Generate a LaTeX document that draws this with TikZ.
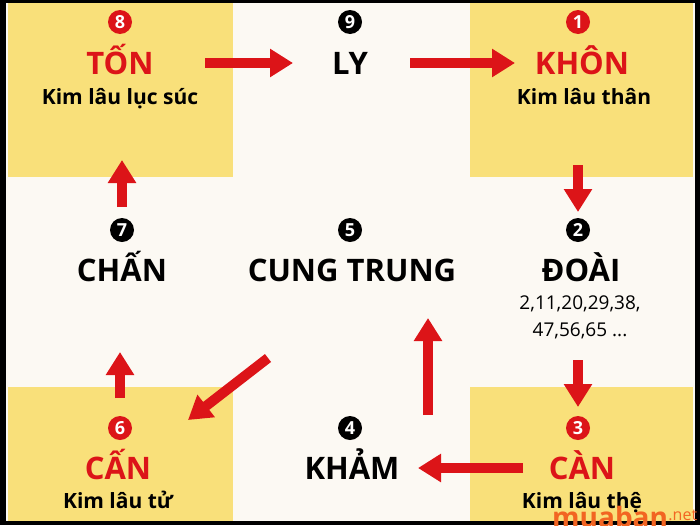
\documentclass[tikz,border=0pt]{standalone}
\usepackage{fontspec}
\setmainfont{Open Sans}
\usepackage{tikz}
\usetikzlibrary{positioning,arrows.meta}
\definecolor{arrowred}{RGB}{220,20,24}
\definecolor{cellyellow}{RGB}{249,224,122}
\definecolor{paper}{RGB}{252,249,243}
\definecolor{brandorange}{RGB}{242,101,34}

\begin{document}
\begin{tikzpicture}[x=1pt,y=-1pt,
    ball/.style={circle, fill=#1, text=white, inner sep=0pt,
        minimum size=24pt, font=\fontsize{18}{18}\selectfont\bfseries},
    ball/.default=black,
    palace/.style={text=#1, inner sep=0pt, text height=22pt, text depth=0pt,
        font=\fontsize{31}{31}\selectfont\bfseries},
    palace/.default=black,
    kimlau/.style={anchor=base, inner sep=0pt, font=\fontsize{21}{21}\selectfont\bfseries},
    ages/.style={anchor=base, inner sep=0pt, font=\fontsize{19}{19}\selectfont},
    flow/.style={draw=arrowred, line width=10pt, -{Triangle[width=27pt,length=23pt]}}]
    \clip (0,0) rectangle (700,525);
    \fill[black] (0,0) rectangle (700,525);
    \fill[paper] (6,3) rectangle (695,521);
    % yellow corner cells
    \fill[cellyellow] (8,3) rectangle (233,177);
    \fill[cellyellow] (470,3) rectangle (693,177);
    \fill[cellyellow] (8,387) rectangle (233,521);
    \fill[cellyellow] (470,387) rectangle (693,521);

    % top row
    \node[ball=arrowred] (n8) at (120,22) {8};
    \node[palace=arrowred] (ton) at (120,63) {TỐN};
    \node[kimlau] (sub8) at (120,104) {Kim lâu lục súc};
    \node[ball] (n9) at (350,22) {9};
    \node[palace] (ly) at (350,63) {LY};
    \node[ball=arrowred] (n1) at (578,22) {1};
    \node[palace=arrowred] (khon) at (582,63) {KHÔN};
    \node[kimlau] (sub1) at (584,104) {Kim lâu thân};

    % middle row
    \node[ball] (n7) at (122,230) {7};
    \node[palace] (chan) at (122,270) {CHẤN};
    \node[ball] (n5) at (350,230) {5};
    \node[palace] (cung) at (352,270) {CUNG TRUNG};
    \node[ball] (n2) at (578,230) {2};
    \node[palace] (doai) at (581,270) {ĐOÀI};
    \node[ages] (ages1) at (580,309) {2,11,20,29,38,};
    \node[ages] (ages2) at (580,336) {47,56,65 ...};

    % bottom row
    \node[ball=arrowred] (n6) at (120,428) {6};
    \node[palace=arrowred] (can6) at (118,468) {CẤN};
    \node[kimlau] (sub6) at (118,508) {Kim lâu tử};
    \node[ball] (n4) at (350,428) {4};
    \node[palace] (kham) at (352,468) {KHẢM};
    \node[ball=arrowred] (n3) at (578,428) {3};
    \node[palace=arrowred] (can3) at (582,468) {CÀN};
    \node[kimlau] (sub3) at (582,508) {Kim lâu thệ};

    % arrows
    \draw[flow, shorten <=85pt, shorten >=57pt] (ton.center) -- (ly.center);
    \draw[flow, shorten <=60pt, shorten >=67pt] (ly.center) -- (khon.center);
    \draw[flow, shorten <=61pt, shorten >=18pt] (n2.center |- sub1.base) -- (n2.center);
    \draw[flow, shorten <=24pt, shorten >=21pt] (n3.center |- ages2.base) -- (n3.center);
    \draw[flow, shorten <=59pt, shorten >=66pt] (can3.center) -- (kham.center);
    \draw[flow, shorten <=13pt, shorten >=48pt] ([xshift=78pt]n4.center) -- ([xshift=78pt]n4.center |- cung.center);
    \coordinate (d5) at (268,358);
    \coordinate (d6) at (188,420);
    \draw[flow] (d5) -- (d6);
    \draw[flow, shorten <=30pt, shorten >=82pt] (n6.center) -- (n6.center |- chan.center);
    \draw[flow, shorten <=23pt, shorten >=56pt] (n7.center) -- (n7.center |- sub8.base);

    % watermark
    \node[anchor=base west, inner sep=0pt, text=brandorange,
        font=\fontsize{28}{28}\selectfont\bfseries] (brand) at (552,527) {muaban};
    \node[anchor=base west, inner sep=0pt, text=brandorange,
        font=\fontsize{16}{16}\selectfont] (net) at ([yshift=7pt]brand.base east) {.net};
\end{tikzpicture}
\end{document}
